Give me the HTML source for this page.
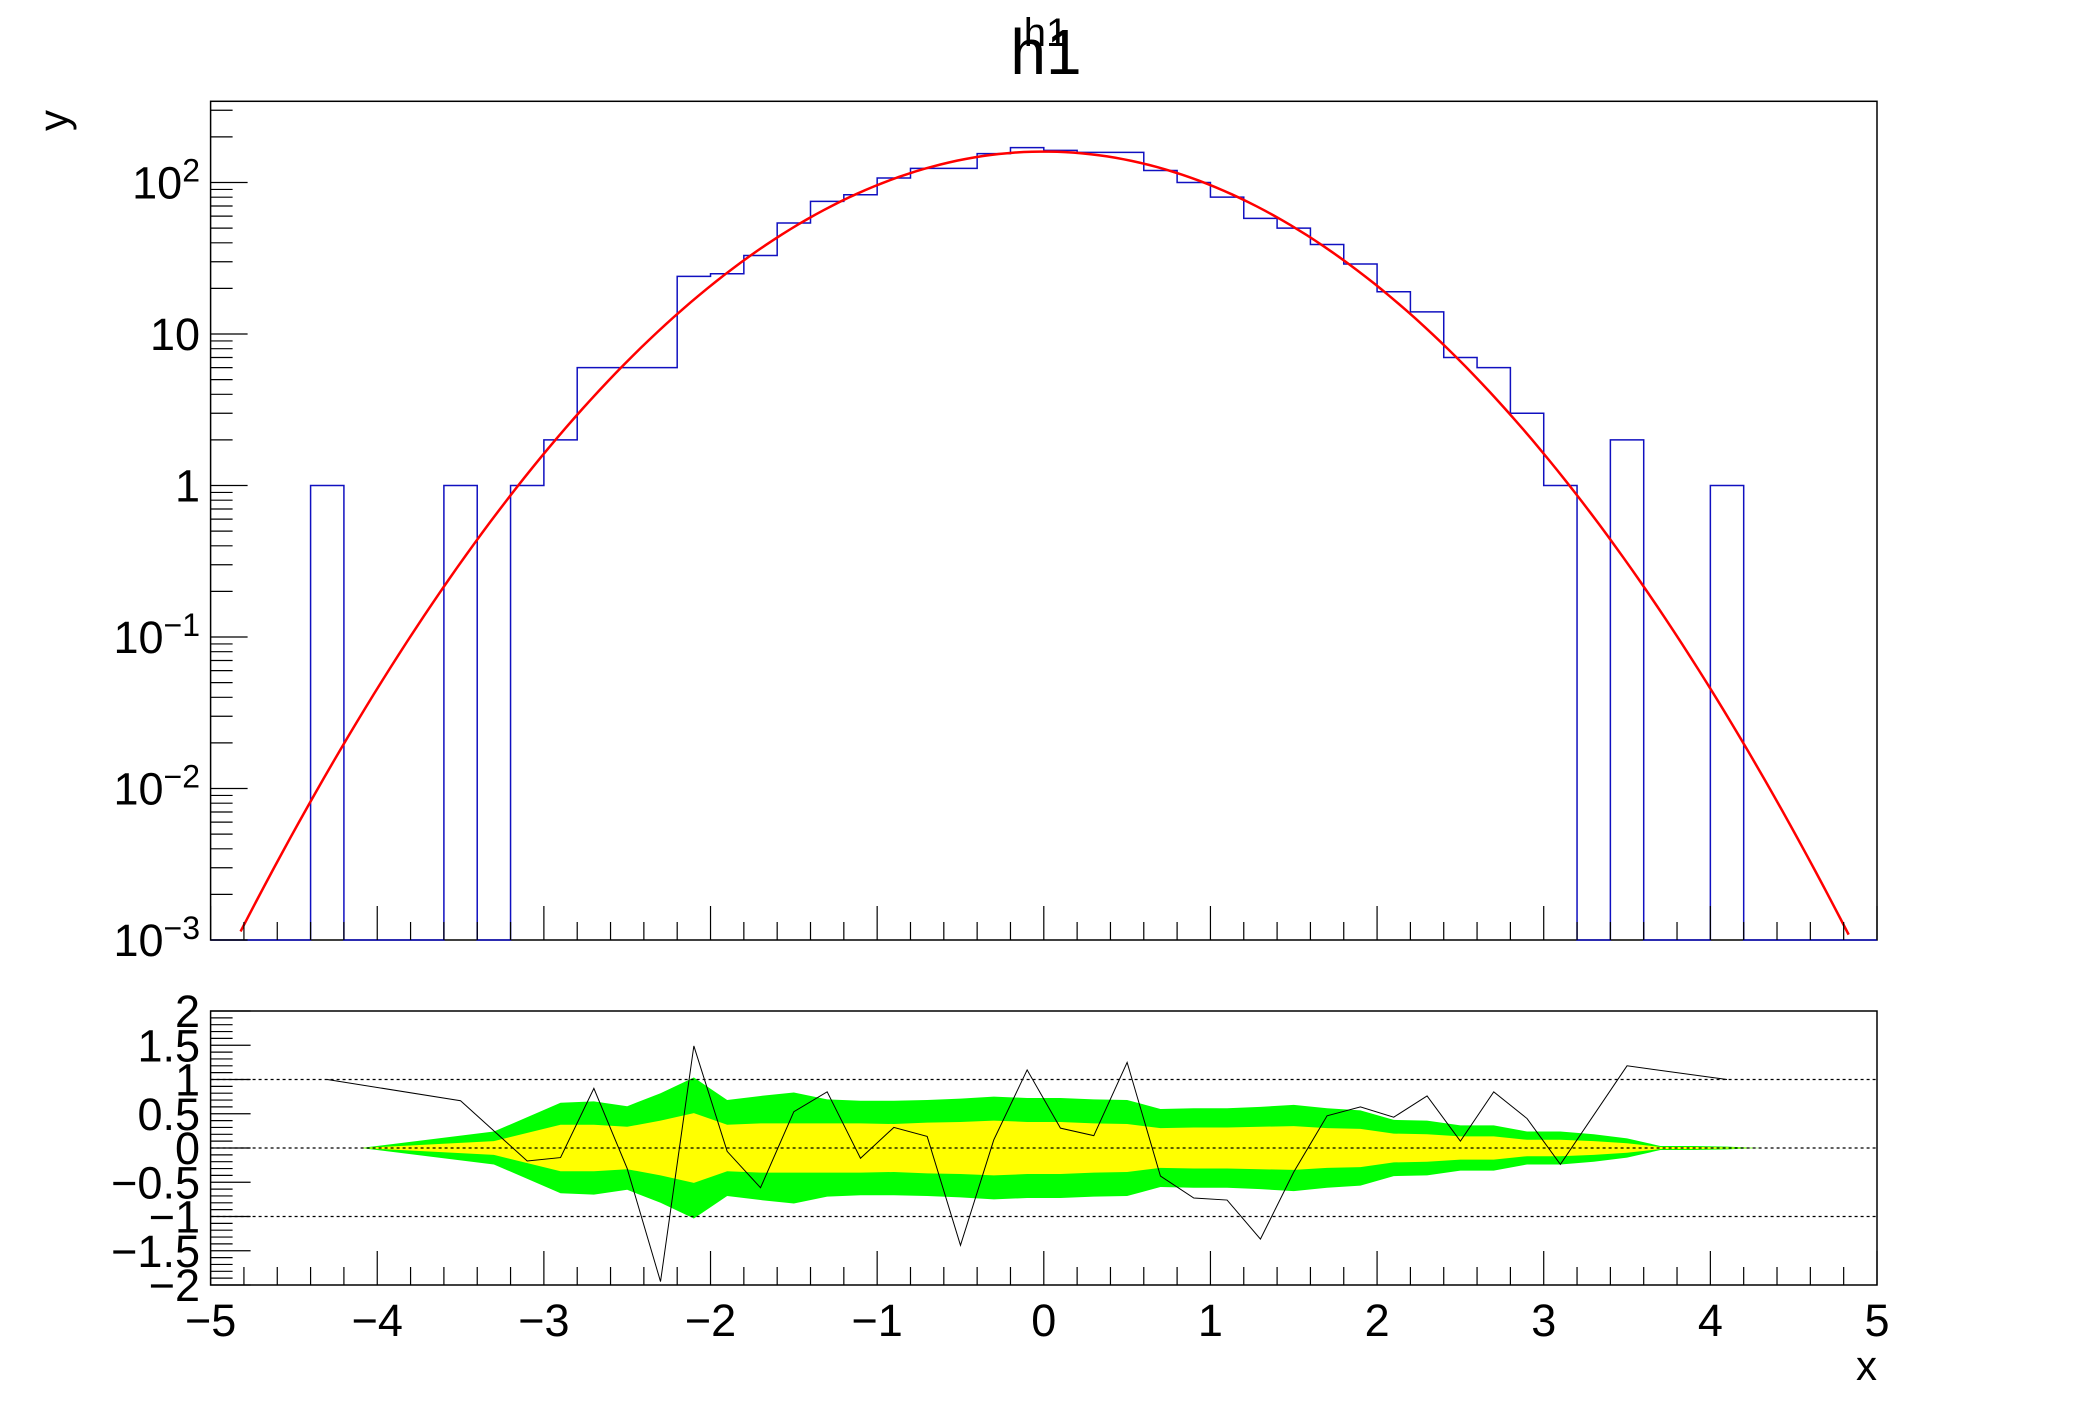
<!DOCTYPE html>
<html><head><meta charset="utf-8"><style>
body{margin:0;background:#fff}
svg text{font-family:"Liberation Sans",sans-serif;fill:#000}
</style></head><body>
<svg id="c" width="2088" height="1416" xmlns="http://www.w3.org/2000/svg">
<rect width="2088" height="1416" fill="#fff"/>
<text x="1046" y="46" font-size="40" text-anchor="middle">h1</text>
<text x="1046" y="74" font-size="64" text-anchor="middle">h1</text>
<text transform="translate(68,110) rotate(-90)" font-size="42" text-anchor="end">y</text>
<text x="1877" y="1380" font-size="42" text-anchor="end">x</text>
<g id="upper"></g>
<g id="lower"></g>
</svg>
<script>
const binEdgesStart = -5, binWidth = 0.2;
const histCounts = [0,0,0,1,0,0,0,1,0,1,2,6,6,6,24,25,33,54,75,83,107,124,124,155,170,163,158,158,120,100,80,58,50,39,29,19,14,7,6,3,1,0,2,0,0,1,0,0,0,0];
const fitParams = [160, 0, 0.99];
const residX = [-4.3,-3.5,-3.1,-2.9,-2.7,-2.5,-2.3,-2.1,-1.9,-1.7,-1.5,-1.3,-1.1,-0.9,-0.7,-0.5,-0.3,-0.1,0.1,0.3,0.5,0.7,0.9,1.1,1.3,1.5,1.7,1.9,2.1,2.3,2.5,2.7,2.9,3.1,3.5,4.1];
const residY = [1.0,0.69,-0.19,-0.14,0.87,-0.3,-1.95,1.49,-0.05,-0.58,0.53,0.82,-0.15,0.30,0.17,-1.42,0.12,1.14,0.29,0.18,1.25,-0.41,-0.73,-0.76,-1.33,-0.35,0.47,0.6,0.45,0.76,0.1,0.82,0.43,-0.24,1.2,1.0];
const bandX = [-4.1,-3.3,-2.9,-2.7,-2.5,-2.3,-2.1,-1.9,-1.7,-1.5,-1.3,-1.1,-0.9,-0.7,-0.5,-0.3,-0.1,0.1,0.3,0.5,0.7,0.9,1.1,1.3,1.5,1.7,1.9,2.1,2.3,2.5,2.7,2.9,3.1,3.3,3.5,3.7,3.9,4.1,4.3];
const band2 = [0.0,0.24,0.66,0.68,0.61,0.80,1.03,0.70,0.76,0.81,0.71,0.69,0.69,0.70,0.72,0.75,0.73,0.73,0.71,0.70,0.57,0.58,0.58,0.60,0.63,0.58,0.55,0.41,0.40,0.33,0.33,0.24,0.24,0.20,0.14,0.03,0.03,0.02,0.0];
const band1 = [0.0,0.10,0.34,0.34,0.31,0.40,0.51,0.34,0.36,0.36,0.36,0.36,0.35,0.37,0.38,0.40,0.38,0.38,0.36,0.35,0.29,0.30,0.30,0.31,0.32,0.29,0.28,0.21,0.20,0.17,0.17,0.12,0.12,0.10,0.07,0.015,0.015,0.01,0.0];
const xTicks = [-5,-4,-3,-2,-1,0,1,2,3,4,5];
const yLogTicks = [-3,-2,-1,0,1,2];
const yRatioTicks = [-2,-1.5,-1,-0.5,0,0.5,1,1.5,2];

const NS="http://www.w3.org/2000/svg";
const L=210.6,R=1877,UT=101.3,UB=940,LT=1011,LB=1285;
const DEC=151.5;
const X=x=>L+(R-L)*(x+5)/10;
const Y=v=>UB-(Math.log10(v)+3)*DEC;
const YL=v=>(LT+LB)/2-v*(LB-LT)/4;
function mk(p,tag,a){const e=document.createElementNS(NS,tag);for(const k in a)e.setAttribute(k,a[k]);p.appendChild(e);return e;}
const up=document.getElementById('upper'),lo=document.getElementById('lower');

let f=mk(up,'rect',{x:L,y:UT,width:R-L,height:UB-UT,fill:'none',stroke:'#000','stroke-width':1.5});



let d='M'+X(binEdgesStart)+','+UB;
histCounts.forEach((c,i)=>{const x0=X(binEdgesStart+i*binWidth),x1=X(binEdgesStart+(i+1)*binWidth);const y=c>0?Y(c):UB;d+=' L'+x0+','+y+' L'+x1+','+y;});
d+=' L'+X(5)+','+UB;
let h=mk(up,'path',{d:d,fill:'none',stroke:'#1010c0','stroke-width':1.5});



let pts=[];
for(let x=-4.87;x<=4.84;x+=0.05){const v=fitParams[0]*Math.exp(-Math.pow(x-fitParams[1],2)/(2*fitParams[2]*fitParams[2]));if(v>=1e-3)pts.push(X(x)+','+Y(v));}
let fl=mk(up,'polyline',{points:pts.join(' '),fill:'none',stroke:'#ff0000','stroke-width':2.5});



function xticks(g,bot){
  for(let i=0;i<=50;i++){const x=-5+i*0.2;const maj=i%5===0;const len=maj?34:18;
    const t=mk(g,'line',{x1:X(x),x2:X(x),y1:bot,y2:bot-len,stroke:'#000','stroke-width':1.2});
    
    }
}
xticks(up,UB);
yLogTicks.forEach(e=>{
  for(let m=1;m<=9;m++){const v=m*Math.pow(10,e);const y=Y(v);if(y<UT)break;
    const t=mk(up,'line',{x1:L,x2:L+(m===1?37:22),y1:y,y2:y,stroke:'#000','stroke-width':1.2});
    
    }
  const tx=mk(up,'text',{x:200,y:Y(Math.pow(10,e))+16,'font-size':45,'text-anchor':'end'});
  
  
  if(e===0)tx.textContent='1';else if(e===1)tx.textContent='10';
  else{tx.textContent='10';const s=mk(tx,'tspan',{dy:-17,'font-size':32});s.textContent=(e<0?'\u2212':'')+Math.abs(e);}
});

let f2=mk(lo,'rect',{x:L,y:LT,width:R-L,height:LB-LT,fill:'none',stroke:'#000','stroke-width':1.5});


function bandPath(w){let top=bandX.map((x,i)=>X(x)+','+YL(w[i]));let bot=bandX.slice().reverse().map((x,j)=>X(x)+','+YL(-w[bandX.length-1-j]));return 'M'+top.join(' L')+' L'+bot.join(' L')+'Z';}
let g2=mk(lo,'path',{d:bandPath(band2),fill:'#00ff00'});


let g1=mk(lo,'path',{d:bandPath(band1),fill:'#ffff00'});


[1,0,-1].forEach(v=>{const l=mk(lo,'line',{x1:L,x2:R,y1:YL(v),y2:YL(v),stroke:'#000','stroke-width':1.3,'stroke-dasharray':'3,3'});
  
  });
let rl=mk(lo,'polyline',{points:residX.map((x,i)=>X(x)+','+YL(residY[i])).join(' '),fill:'none',stroke:'#000','stroke-width':1});


xticks(lo,LB);
for(let i=0;i<=40;i++){const v=-2+i*0.1;const maj=i%5===0;
  const t=mk(lo,'line',{x1:L,x2:L+(maj?40:22),y1:YL(v),y2:YL(v),stroke:'#000','stroke-width':1.2});
  
  }
yRatioTicks.forEach(v=>{const t=mk(lo,'text',{x:200,y:YL(v)+16,'font-size':45,'text-anchor':'end'});
  t.textContent=(v<0?'\u2212':'')+Math.abs(v);
  
  });
xTicks.forEach(v=>{const t=mk(lo,'text',{x:X(v),y:1336,'font-size':45,'text-anchor':'middle'});
  t.textContent=(v<0?'\u2212':'')+Math.abs(v);
  
  });
</script>
</body></html>
